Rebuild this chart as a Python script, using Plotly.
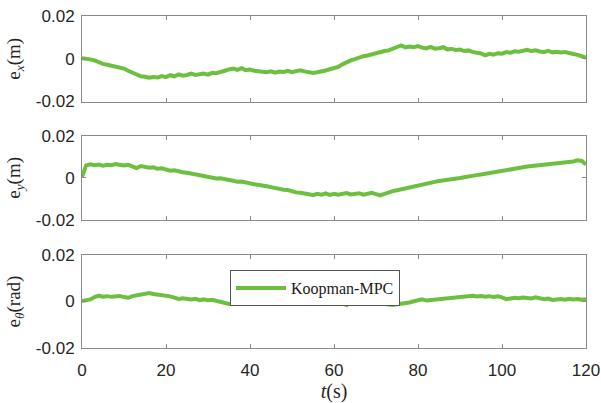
import plotly.graph_objects as go

# Tracking errors of the Koopman-MPC controller, sampled once per second.
# Values are stored in units of 1e-3 and scaled when plotted.
SCALE = 1e-3
t = list(range(0, 121))

ex = [0.3, 0.2, -0.3, -0.8, -1.8, -2.4, -2.8, -3.3, -3.6, -4.2,
      -4.6, -5.6, -6.5, -7.4, -8.2, -8.4, -8.9, -8.5, -8.8, -8.1,
      -8.6, -7.7, -8.2, -7.3, -7.9, -7.6, -7.0, -7.6, -7.1, -6.9,
      -7.4, -6.6, -6.8, -6.0, -5.6, -5.0, -4.6, -5.2, -4.4, -5.3,
      -5.0, -5.6, -5.9, -6.1, -6.3, -5.9, -6.5, -6.0, -6.2, -5.7,
      -6.3, -5.8, -5.4, -5.9, -6.4, -6.6, -6.3, -6.0, -5.5, -4.9,
      -4.4, -3.8, -2.6, -1.5, -0.8, -0.2, 0.6, 1.2, 1.5, 2.1,
      2.6, 3.0, 3.6, 3.9, 4.6, 5.6, 6.2, 5.3, 5.7, 5.4,
      5.9, 5.2, 4.8, 5.5, 4.7, 4.9, 5.4, 4.4, 4.6, 4.1,
      4.3, 3.6, 3.9, 3.2, 2.8, 2.5, 1.6, 2.3, 1.9, 2.6,
      2.4, 3.1, 2.8, 3.5, 3.3, 3.9, 4.2, 3.6, 4.0, 3.4,
      3.2, 3.7, 3.0, 3.3, 2.9, 3.1, 2.5, 2.2, 1.8, 1.2,
      0.6]

ey = [0.5, 5.9, 6.4, 6.0, 6.3, 5.8, 6.2, 6.0, 6.5, 6.1,
      5.9, 6.2, 5.5, 4.6, 5.6, 5.2, 4.8, 5.0, 4.3, 4.5,
      3.8, 3.4, 3.6, 3.0, 2.7, 2.4, 2.0, 1.6, 1.2, 0.9,
      0.6, 0.2, -0.3, -0.2, -0.8, -1.0, -1.4, -1.8, -1.7, -2.3,
      -2.6, -3.0, -3.2, -3.6, -4.0, -4.4, -4.9, -5.1, -5.6, -5.8,
      -6.4, -6.9, -7.1, -7.3, -7.8, -8.2, -7.6, -8.0, -7.4, -8.1,
      -7.6, -8.0, -7.8, -7.2, -7.9, -7.7, -7.3, -8.0, -7.5, -7.1,
      -7.7, -8.3, -7.6, -6.8, -6.3, -5.9, -5.4, -5.0, -4.6, -4.0,
      -3.7, -3.3, -2.6, -2.2, -1.9, -1.5, -1.3, -0.9, -0.7, -0.4,
      -0.1, 0.3, 0.5, 0.9, 1.3, 1.6, 1.9, 2.4, 2.6, 3.0,
      3.3, 3.7, 4.0, 4.4, 4.7, 5.0, 5.4, 5.6, 5.9, 6.1,
      6.4, 6.5, 6.8, 6.7, 7.1, 7.2, 7.4, 7.8, 8.3, 8.0,
      6.3]

eth = [0.2, 0.5, 0.9, 1.9, 2.5, 2.1, 2.3, 2.0, 2.2, 2.4,
       1.9, 1.6, 2.3, 2.7, 3.1, 3.4, 3.6, 3.2, 3.0, 2.6,
       2.8, 2.2, 1.7, 1.1, 1.4, 1.0, 0.9, 1.2, 0.6, 0.9,
       0.5, 0.7, 0.3, 0.1, -0.6, -1.1, -1.0, -0.6, -0.9, -0.4,
       -0.3, -0.1, 0.6, 0.1, -0.2, 0.3, 0.0, 0.2, -0.1, 0.4,
       0.5, 0.8, 0.6, 0.9, 0.4, 0.6, 0.2, 0.5, 0.1, 0.4,
       0.3, -0.2, -0.8, -1.5, 1.0, -0.6, -0.2, -0.5, -0.3, -0.7,
       -0.6, -0.9, -1.2, -1.4, -1.5, -1.2, -1.0, -0.8, -0.4, 0.1,
       0.3, 0.9, 0.4, 0.6, 0.8, 1.0, 1.1, 1.3, 1.5, 1.4,
       1.8, 2.0, 2.3, 2.5, 2.2, 2.4, 2.1, 2.3, 1.9, 2.2,
       1.8, 1.0, 1.3, 1.6, 1.4, 1.7, 1.5, 1.3, 1.8, 1.2,
       1.0, 1.3, 0.7, 0.9, 1.1, 0.8, 1.2, 0.9, 1.1, 0.8,
       1.0]

x_ticks = [0, 20, 40, 60, 80, 100, 120]
y_ticks = [-0.02, 0, 0.02]
y_tick_text = ["-0.02", "0", "0.02"]
y_titles = ["e<sub><i>x</i></sub>(m)", "e<sub><i>y</i></sub>(m)", "e<sub><i>θ</i></sub>(rad)"]
series_name = "Koopman-MPC"

GREEN = "#6cbf3f"
FRAME = "#8a8a8a"
TICKFONT = dict(family="Liberation Sans, Arial, sans-serif", size=17, color="#262626")
SERIF = "Liberation Serif, Times New Roman, serif"

W, H = 601, 403
x_dom = [82 / W, 586 / W]
y_doms = [
    [1 - 101.5 / H, 1 - 16 / H],
    [1 - 220 / H, 1 - 135.7 / H],
    [1 - 348 / H, 1 - 255 / H],
]

fig = go.Figure()
for i, vals in enumerate([ex, ey, eth]):
    n = "" if i == 0 else str(i + 1)
    fig.add_trace(go.Scatter(
        x=t, y=[v * SCALE for v in vals], mode="lines",
        line=dict(color=GREEN, width=4),
        name=series_name, showlegend=(i == 2),
        xaxis="x" + n, yaxis="y" + n,
    ))

layout = dict(
    width=W, height=H,
    margin=dict(l=0, r=0, t=0, b=0, autoexpand=False),
    paper_bgcolor="white", plot_bgcolor="white",
    showlegend=True,
    legend=dict(
        x=230 / W, y=1 - 270 / H, xanchor="left", yanchor="top",
        bgcolor="white", bordercolor="#555555", borderwidth=1,
        font=dict(family=SERIF, size=16, color="#1a1a1a"),
        itemwidth=50,
    ),
)
for i in range(3):
    n = "" if i == 0 else str(i + 1)
    layout["xaxis" + n] = dict(
        domain=x_dom, anchor="y" + n, range=[0, 120],
        tickvals=x_ticks, showticklabels=(i == 2),
        ticks="inside", ticklen=4, tickcolor=FRAME,
        showline=True, linecolor=FRAME, linewidth=1, mirror="ticks",
        showgrid=False, zeroline=False, tickfont=TICKFONT,
        ticklabelstandoff=7,
        automargin=False,
        matches=None if i == 0 else "x",
    )
    layout["yaxis" + n] = dict(
        domain=y_doms[i], anchor="x" + n, range=[-0.02, 0.02],
        tickvals=y_ticks, ticktext=y_tick_text,
        ticks="inside", ticklen=4, tickcolor=FRAME,
        showline=True, linecolor=FRAME, linewidth=1, mirror="ticks",
        showgrid=False, zeroline=False, tickfont=TICKFONT,
        ticklabelstandoff=3,
        automargin=False,
        title=dict(text=y_titles[i], font=dict(family=SERIF, size=19, color="#262626"), standoff=10),
    )
layout["xaxis3"]["title"] = dict(
    text="<i>t</i>(s)", font=dict(family=SERIF, size=20, color="#262626"), standoff=4,
)

fig.update_layout(**layout)
fig.write_html("out.html")
